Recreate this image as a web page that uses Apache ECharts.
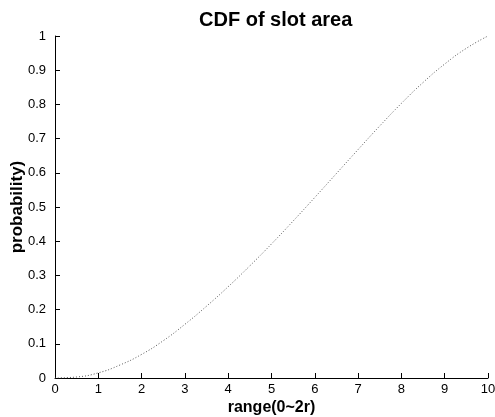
<!DOCTYPE html>
<html>
<head>
<meta charset="utf-8">
<script src="https://cdn.jsdelivr.net/npm/echarts@6/dist/echarts.min.js"></script>
<style>
  html, body { margin: 0; padding: 0; background: #fff; }
  #chart { width: 495px; height: 417px; }
</style>
</head>
<body>
<div id="chart"></div>
<script>
// range values (x) and CDF probability
const rangeX = [0, 0.5, 1, 1.5, 2, 2.5, 3, 3.5, 4, 4.5, 5, 5.5, 6, 6.5, 7, 7.5, 8, 8.5, 9, 9.5, 10];
const cdfY = [0, 0.003, 0.015, 0.038, 0.069, 0.109, 0.157, 0.21, 0.267, 0.328, 0.392, 0.459, 0.528, 0.598, 0.668, 0.737, 0.803, 0.864, 0.918, 0.964, 1.0];
const xTicks = [0, 1, 2, 3, 4, 5, 6, 7, 8, 9, 10];
const yTicks = [0, 0.1, 0.2, 0.3, 0.4, 0.5, 0.6, 0.7, 0.8, 0.9, 1];

const chart = echarts.init(document.getElementById("chart"));
const font = "Arial, 'Liberation Sans', sans-serif";
const tickFont = "'Liberation Sans Narrow', 'Arial Narrow', Arial, sans-serif";

chart.setOption({
  animation: false,
  title: {
    text: "CDF of slot area",
    left: 194,
    top: 5,
    textStyle: { fontFamily: font, fontSize: 20, fontWeight: "bold", color: "#000" },
  },
  grid: { left: 55, right: 7, top: 36, bottom: 39, outerBoundsMode: "none" },
  xAxis: {
    type: "value",
    min: 0,
    max: 10,
    interval: 1,
    name: "range(0~2r)",
    nameLocation: "middle",
    nameGap: 22,
    nameMoveOverlap: false,
    nameTextStyle: { fontFamily: font, fontSize: 16, fontWeight: "bold", color: "#000" },
    axisLine: { lineStyle: { color: "#000", width: 1 } },
    axisTick: { inside: true, length: 5, lineStyle: { color: "#000" } },
    axisLabel: {
      fontFamily: tickFont, fontSize: 13, color: "#000", margin: 5,
      formatter: (v) => (xTicks.includes(v) ? String(v) : ""),
    },
    splitLine: { show: false },
  },
  yAxis: {
    type: "value",
    min: 0,
    max: 1,
    interval: 0.1,
    name: "probability)",
    nameLocation: "middle",
    nameGap: 29,
    nameMoveOverlap: false,
    nameTextStyle: { fontFamily: font, fontSize: 17, fontWeight: "bold", color: "#000" },
    axisLine: { show: true, lineStyle: { color: "#000", width: 1 } },
    axisTick: { show: true, inside: true, length: 5, lineStyle: { color: "#000" } },
    axisLabel: {
      fontFamily: tickFont, fontSize: 13, color: "#000", margin: 9,
      formatter: (v) => {
        const t = yTicks.find((k) => Math.abs(k - v) < 1e-9);
        return t === undefined ? "" : String(t);
      },
    },
    splitLine: { show: false },
  },
  series: [
    {
      type: "line",
      data: rangeX.map((x, i) => [x, cdfY[i]]),
      showSymbol: false,
      smooth: 0.5,
      lineStyle: { color: "#555", width: 1, type: [1, 2] },
    },
  ],
});
</script>
</body>
</html>
